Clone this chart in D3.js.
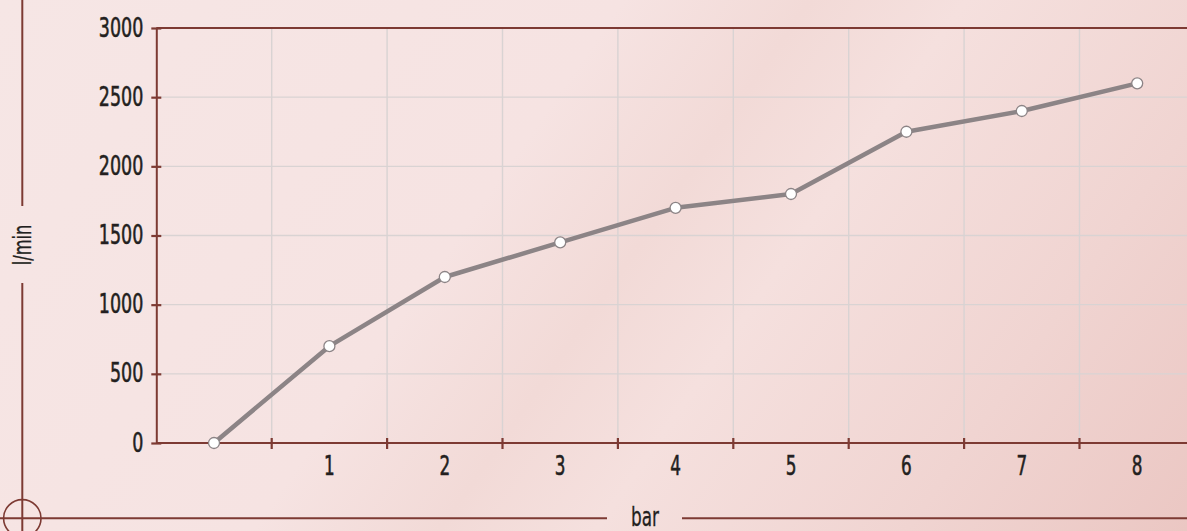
<!DOCTYPE html>
<html>
<head>
<meta charset="utf-8">
<script src="https://cdn.jsdelivr.net/npm/d3@7"></script>
<style>
  html, body { margin: 0; padding: 0; overflow: hidden; }
  body {
    width: 1187px; height: 531px;
    background: linear-gradient(125deg, #f6e6e5 0%, #f6e3e2 40%, #f2dad7 52%, #f5e0de 62%, #f0d4d1 82%, #ebc7c3 100%);
  }
  svg { display: block; }
  text { font-family: "DejaVu Sans Condensed", "DejaVu Sans", sans-serif; font-stretch: condensed; fill: #231f20; stroke: #231f20; stroke-width: 0.55px; }
</style>
</head>
<body>
<svg id="chart" width="1187" height="531"></svg>
<script>
// Flow rate (l/min) against pressure (bar)
const categories = ["0", "1", "2", "3", "4", "5", "6", "7", "8"];
const tickLabels = ["", "1", "2", "3", "4", "5", "6", "7", "8"];
const flowValues = [0, 700, 1200, 1450, 1700, 1800, 2250, 2400, 2600];
const yTicks = [0, 500, 1000, 1500, 2000, 2500, 3000];

const axisColor = "#7d3a33";
const gridColor = "#d9d3d3";
const lineColor = "#8c8486";
const squeeze = "scale(0.72,1)";

const svg = d3.select("#chart");
const m = { left: 156.3, top: 28, bottom: 443 };
const bandW = 115.4;
const plotRight = m.left + bandW * categories.length;

const x = d3.scaleBand().domain(categories).range([m.left, plotRight]).padding(0);
const y = d3.scaleLinear().domain([0, 3000]).range([m.bottom, m.top]);

// grid
const grid = svg.append("g");
grid.selectAll("line.h").data(yTicks.filter(d => d > 0 && d < 3000)).join("line")
  .attr("x1", m.left).attr("x2", plotRight)
  .attr("y1", d => y(d)).attr("y2", d => y(d))
  .attr("stroke", gridColor).attr("stroke-width", 1.4);
grid.selectAll("line.v").data(categories.slice(1)).join("line")
  .attr("x1", d => x(d)).attr("x2", d => x(d))
  .attr("y1", m.top).attr("y2", m.bottom)
  .attr("stroke", gridColor).attr("stroke-width", 1.4);

// plot top border
svg.append("line").attr("x1", m.left).attr("x2", plotRight)
  .attr("y1", m.top).attr("y2", m.top)
  .attr("stroke", axisColor).attr("stroke-width", 2);

// y axis
const yAxis = svg.append("g").attr("transform", `translate(${m.left},0)`)
  .call(d3.axisLeft(y).tickValues(yTicks).tickFormat(d3.format("d")).tickSize(5).tickPadding(13).tickSizeOuter(0));
yAxis.attr("font-family", null).attr("font-size", null);
yAxis.select(".domain").attr("stroke", axisColor).attr("stroke-width", 2);
yAxis.selectAll(".tick line").attr("stroke", axisColor).attr("stroke-width", 2.2).attr("x2", -5).attr("x1", 5);
yAxis.selectAll(".tick text")
  .attr("x", null).attr("dy", null)
  .attr("transform", `translate(-13,8) ${squeeze}`)
  .style("font-size", "27px").style("fill", "#231f20");

// x axis
const xAxis = svg.append("g").attr("transform", `translate(0,${m.bottom})`)
  .call(d3.axisBottom(x).tickFormat((d, i) => tickLabels[i]).tickSize(0).tickPadding(0).tickSizeOuter(0));
xAxis.attr("font-family", null).attr("font-size", null);
xAxis.select(".domain").attr("stroke", axisColor).attr("stroke-width", 2).attr("d", `M${m.left},0H${plotRight}`);
xAxis.selectAll(".tick line").remove();
xAxis.selectAll(".tick text")
  .attr("y", null).attr("dy", null)
  .attr("transform", `translate(0,32) ${squeeze}`)
  .style("font-size", "26px").style("fill", "#231f20");
// band boundary ticks
xAxis.selectAll("line.bt").data(categories.slice(1)).join("line")
  .attr("x1", d => x(d)).attr("x2", d => x(d))
  .attr("y1", -5).attr("y2", 6)
  .attr("stroke", axisColor).attr("stroke-width", 2.2);

// data line
const cx = d => x(d) + x.bandwidth() / 2;
const pts = categories.map((c, i) => [cx(c), y(flowValues[i])]);
svg.append("path").datum(pts)
  .attr("d", d3.line())
  .attr("fill", "none").attr("stroke", lineColor).attr("stroke-width", 4.5)
  .attr("stroke-linejoin", "round").attr("stroke-linecap", "round");
svg.selectAll("circle.pt").data(pts).join("circle")
  .attr("cx", d => d[0]).attr("cy", d => d[1]).attr("r", 5.5)
  .attr("fill", "#ffffff").attr("stroke", lineColor).attr("stroke-width", 1.3);

// outer frame with axis titles
const frame = svg.append("g").attr("stroke", axisColor).attr("stroke-width", 2).attr("fill", "none");
const fx = 22.3, fy = 518.3;
frame.append("line").attr("x1", fx).attr("x2", fx).attr("y1", 0).attr("y2", 206);
frame.append("line").attr("x1", fx).attr("x2", fx).attr("y1", 283).attr("y2", 531);
frame.append("line").attr("x1", 0).attr("x2", 607).attr("y1", fy).attr("y2", fy);
frame.append("line").attr("x1", 682).attr("x2", 1187).attr("y1", fy).attr("y2", fy);
frame.append("circle").attr("cx", fx).attr("cy", fy).attr("r", 18.7).attr("stroke-width", 1.6);

svg.append("text")
  .attr("transform", `translate(${fx + 9},245) rotate(-90) ${squeeze}`)
  .attr("text-anchor", "middle")
  .style("font-size", "25px").style("stroke-width", "0.3px")
  .text("l/min");
svg.append("text")
  .attr("transform", `translate(645,526) ${squeeze}`)
  .attr("text-anchor", "middle")
  .style("font-size", "26px").style("stroke-width", "0.3px")
  .text("bar");
</script>
</body>
</html>
